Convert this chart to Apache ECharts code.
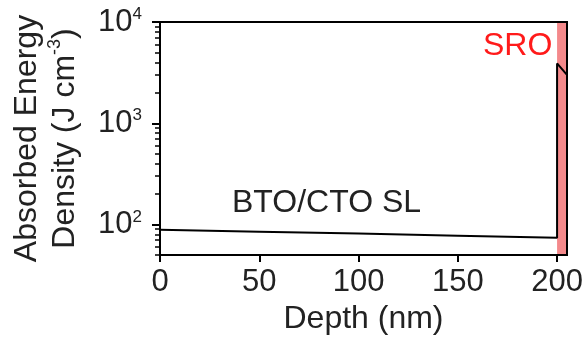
<!DOCTYPE html>
<html>
<head>
<meta charset="utf-8">
<script src="https://cdn.jsdelivr.net/npm/echarts@6/dist/echarts.min.js"></script>
<style>
    html, body { margin: 0; padding: 0; background: #fff; }
    #chart { width: 587px; height: 341px; }
</style>
</head>
<body>
<div id="chart"></div>
<script>
// depth (nm) vs absorbed energy density (J cm^-3)
const depth = [0, 50, 100, 150, 200, 200, 205];
const energy = [89, 85, 81.5, 77.5, 74, 3900, 3000];

const xTicks = [0, 50, 100, 150, 200];
const yMajorTicks = [100, 1000, 10000];
const yMinorTicks = [50, 60, 70, 80, 90, 200, 300, 400, 500, 600, 700, 800, 900,
    2000, 3000, 4000, 5000, 6000, 7000, 8000, 9000];
const sroRange = [200, 205];

const font = 'Liberation Sans, Arial, sans-serif';
const ink = '#222';

let chart = echarts.init(document.getElementById('chart'), null, { renderer: 'canvas' });

chart.setOption({
    animation: false,
    textStyle: { fontFamily: font },
    grid: {
        left: 155, right: 20, top: 22, bottom: 86,
        show: true, z: 10,
        borderColor: '#000', borderWidth: 2,
        backgroundColor: 'transparent'
    },
    xAxis: {
        type: 'value',
        min: 0, max: 205,
        name: 'Depth (nm)',
        nameLocation: 'middle',
        nameGap: 48,
        nameTextStyle: { fontSize: 32, color: ink, fontFamily: font },
        axisLine: { lineStyle: { color: '#000', width: 2 } },
        axisTick: { inside: false, length: 7, lineStyle: { color: '#000', width: 2 }, customValues: xTicks },
        axisLabel: { fontSize: 31, color: ink, margin: 12, fontFamily: font, customValues: xTicks },
        splitLine: { show: false }
    },
    yAxis: [{
        type: 'log',
        logBase: 10,
        min: 50, max: 10000,
        name: 'Absorbed Energy\nDensity (J cm{sup|-3})',
        nameLocation: 'middle',
        nameRotate: 90,
        nameGap: 76,
        nameTextStyle: {
            fontSize: 32, color: ink, fontFamily: font, lineHeight: 38,
            rich: {
                sup: { fontSize: 18, color: ink, fontFamily: font, verticalAlign: 'top', lineHeight: 20 }
            }
        },
        axisLine: { lineStyle: { color: '#000', width: 2 } },
        axisTick: { inside: false, length: 8, lineStyle: { color: '#000', width: 2 }, customValues: yMajorTicks },
        axisLabel: {
            margin: 18,
            customValues: yMajorTicks,
            formatter: function (v) {
                return '{base|10}{sup|' + Math.round(Math.log10(v)) + '}';
            },
            rich: {
                base: { fontSize: 31, color: ink, fontFamily: font, lineHeight: 32 },
                sup: { fontSize: 17, color: ink, fontFamily: font, verticalAlign: 'top', lineHeight: 16 }
            }
        },
        splitLine: { show: false }
    }, {
        // minor log ticks
        type: 'log',
        logBase: 10,
        min: 50, max: 10000,
        position: 'left',
        axisLine: { show: false },
        axisTick: { inside: false, length: 5, lineStyle: { color: '#000', width: 1.5 }, customValues: yMinorTicks },
        axisLabel: { show: false },
        splitLine: { show: false }
    }],
    graphic: [{
        type: 'text',
        left: 232, top: 187,
        style: { text: 'BTO/CTO SL', font: '32px ' + font, fill: ink }
    }, {
        type: 'text',
        left: 483, top: 30,
        style: { text: 'SRO', font: '32px ' + font, fill: '#ff1a1a' }
    }],
    series: [{
        type: 'line',
        data: depth.map((d, i) => [d, energy[i]]),
        showSymbol: false,
        lineStyle: { color: '#000', width: 2 },
        markArea: {
            silent: true,
            itemStyle: { color: '#f4898b' },
            data: [[{ xAxis: sroRange[0] }, { xAxis: sroRange[1] }]]
        }
    }]
});
</script>
</body>
</html>
